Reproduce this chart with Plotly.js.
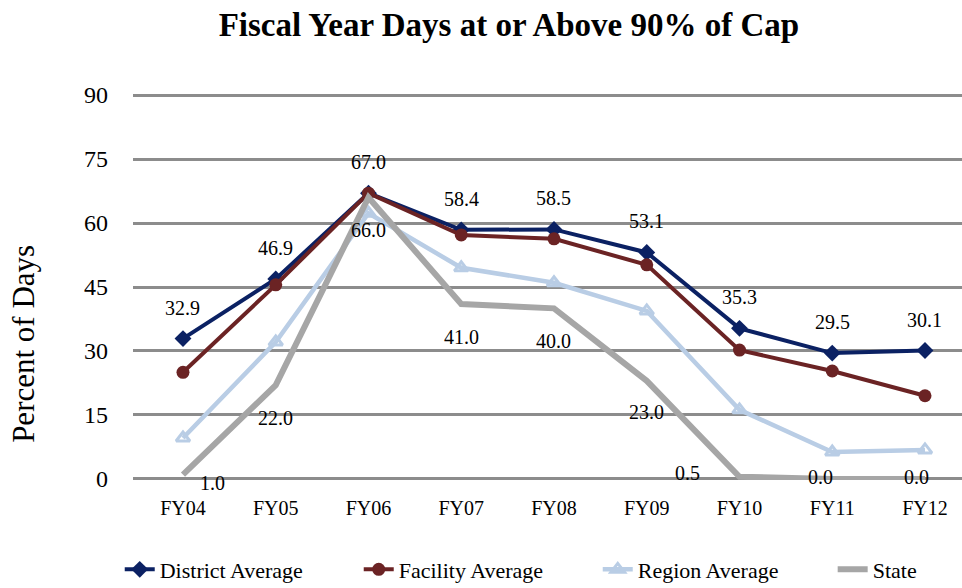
<!DOCTYPE html>
<html>
<head>
<meta charset="utf-8">
<script src="https://cdn.plot.ly/plotly-3.0.1.min.js"></script>
<style>html,body{margin:0;padding:0;background:#fff;}#chart{width:962px;height:588px;}</style>
</head>
<body>
<div id="chart"></div>
<script>
const categories = ["FY04","FY05","FY06","FY07","FY08","FY09","FY10","FY11","FY12"];
const districtAvg = [32.9, 46.9, 67.0, 58.4, 58.5, 53.1, 35.3, 29.5, 30.1];
const facilityAvg = [25.0, 45.5, 67.0, 57.2, 56.3, 50.2, 30.2, 25.3, 19.5];
const regionAvg   = [9.6, 32.1, 62.3, 49.5, 46.0, 39.4, 16.2, 6.3, 6.8];
const stateVals   = [1.0, 22.0, 66.0, 41.0, 40.0, 23.0, 0.5, 0.0, 0.0];
const yTicks = [0, 15, 30, 45, 60, 75, 90];

// label placement tweaks (pixels), separate from data
const stateLabelDx = [30, 0, 0, 0, 0, 0, -52, -12, -8];
const stateLabelDy = [-8, -33, -33, -33, -33, -31, 4, 2, 2];

const FONT = "Liberation Serif, Times New Roman, serif";

const traces = [
  {name: "District Average", x: categories, y: districtAvg, type: "scatter", mode: "lines+markers",
   line: {color: "#0B2163", width: 4}, marker: {symbol: "diamond", size: 13, color: "#0B2163"}},
  {name: "Facility Average", x: categories, y: facilityAvg, type: "scatter", mode: "lines+markers",
   line: {color: "#6B2324", width: 4}, marker: {symbol: "circle", size: 13, color: "#6B2324"}},
  {name: "Region Average", x: categories, y: regionAvg, type: "scatter", mode: "lines+markers",
   line: {color: "#B9CDE5", width: 4.5}, marker: {symbol: "triangle-up-open", size: 12, color: "#B9CDE5", line: {width: 3, color: "#B9CDE5"}}},
  {name: "State", x: categories, y: stateVals, type: "scatter", mode: "lines", legend: "legend2",
   line: {color: "#A6A6A6", width: 6}}
];

const annotations = [];
categories.forEach((c, i) => {
  annotations.push({x: c, y: districtAvg[i], xref: "x", yref: "y", text: districtAvg[i].toFixed(1),
    showarrow: false, yshift: 31, font: {family: FONT, size: 20, color: "#000"}});
  annotations.push({x: c, y: stateVals[i], xref: "x", yref: "y", text: stateVals[i].toFixed(1),
    showarrow: false, yshift: stateLabelDy[i], xshift: stateLabelDx[i], font: {family: FONT, size: 20, color: "#000"}});
});
annotations.push({x: -0.133, y: 0.352, xref: "paper", yref: "paper", xanchor: "center", yanchor: "middle",
  text: "Percent of Days", textangle: -90,
  showarrow: false, font: {family: FONT, size: 31, color: "#000"}});

const legendCommon = {orientation: "h", yanchor: "middle", y: -0.232, xanchor: "left",
  font: {family: FONT, size: 22, color: "#000"}, traceorder: "normal", tracegroupgap: 0, bgcolor: "rgba(0,0,0,0)"};

const layout = {
  width: 962, height: 588,
  margin: {l: 133, r: 0, t: 94, b: 108, autoexpand: false},
  paper_bgcolor: "#fff", plot_bgcolor: "#fff",
  title: {text: "<b>Fiscal Year Days at or Above 90% of Cap</b>", x: 0.529, xanchor: "center", y: 0.958, yanchor: "middle",
    font: {family: FONT, size: 33, color: "#000"}},
  xaxis: {type: "category", range: [-0.539, 8.399], showgrid: false, zeroline: false, showline: false,
    ticks: "", tickfont: {family: FONT, size: 20, color: "#000"}, ticklabelstandoff: 14},
  yaxis: {range: [-0.25, 90.25], tickvals: yTicks, ticktext: yTicks.map(String), showgrid: true, gridcolor: "#8C8C8C", gridwidth: 3,
    zeroline: false, showline: false, ticks: "", tickfont: {family: FONT, size: 24, color: "#000"}, ticklabelstandoff: 24},
  showlegend: true,
  legend: Object.assign({}, legendCommon, {x: -0.016, entrywidth: 194, entrywidthmode: "pixels"}),
  legend2: Object.assign({}, legendCommon, {x: 0.844}),
  annotations: annotations,
  hovermode: false
};

Plotly.newPlot("chart", traces, layout, {displayModeBar: false, staticPlot: true});
</script>
</body>
</html>
